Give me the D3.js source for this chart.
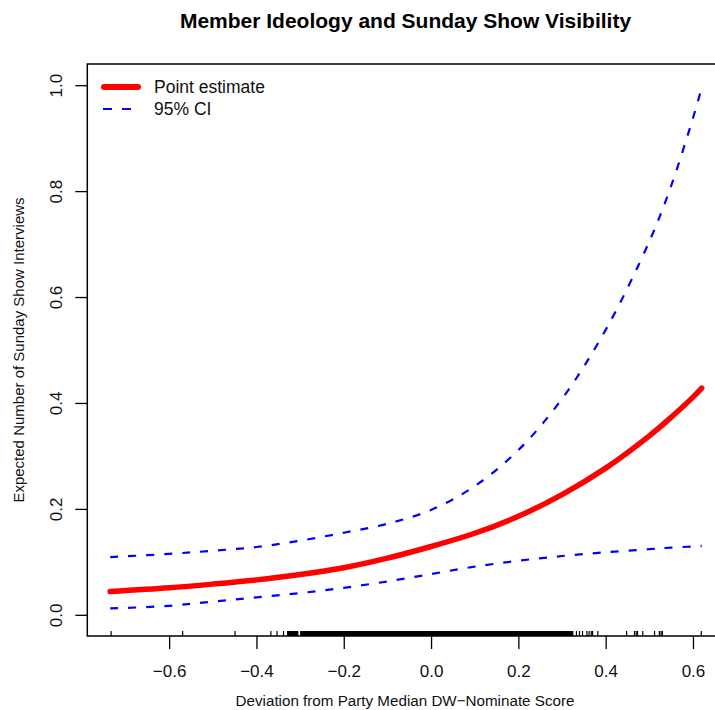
<!DOCTYPE html>
<html>
<head>
<meta charset="utf-8">
<script src="https://cdn.jsdelivr.net/npm/d3@7"></script>
<style>
  html, body { margin: 0; padding: 0; background: #fff; }
  svg { display: block; font-family: "Liberation Sans", Arial, Helvetica, sans-serif; }
</style>
</head>
<body>
<svg id="chart" width="715" height="710"></svg>
<script>
// ---- data ----
const xGrid = [-0.735, -0.6, -0.5, -0.4, -0.3, -0.2, -0.1, 0.0, 0.1, 0.2, 0.3, 0.4, 0.5, 0.55, 0.6, 0.62];
const pointEstimate = [0.044, 0.051, 0.058, 0.066, 0.076, 0.089, 0.107, 0.129, 0.154, 0.186, 0.227, 0.277, 0.338, 0.373, 0.411, 0.428];
const upperCI = [0.109, 0.115, 0.121, 0.128, 0.140, 0.155, 0.172, 0.198, 0.243, 0.311, 0.408, 0.538, 0.705, 0.810, 0.938, 0.995];
const lowerCI = [0.012, 0.017, 0.025, 0.033, 0.041, 0.051, 0.063, 0.077, 0.091, 0.102, 0.111, 0.118, 0.124, 0.127, 0.129, 0.130];

// rug of observed deviations: isolated ticks and dense bands
const rugTicks = [-0.733, -0.569, -0.449, -0.367, -0.353, -0.338, 0.333, 0.340, 0.347, 0.357, 0.362, 0.367, 0.370, 0.382,
                  0.448, 0.466, 0.470, 0.473, 0.485, 0.512, 0.523, 0.527, 0.530, 0.619];
const rugBands = [[-0.330, -0.304], [-0.300, 0.326]];

const xTicks = [-0.6, -0.4, -0.2, 0.0, 0.2, 0.4, 0.6];
const xTickLabels = ["\u22120.6", "\u22120.4", "\u22120.2", "0.0", "0.2", "0.4", "0.6"];
const yTicks = [0.0, 0.2, 0.4, 0.6, 0.8, 1.0];
const yTickLabels = ["0.0", "0.2", "0.4", "0.6", "0.8", "1.0"];

const title = "Member Ideology and Sunday Show Visibility";
const xLabel = "Deviation from Party Median DW\u2212Nominate Score";
const yLabel = "Expected Number of Sunday Show Interviews";
const legendLabels = ["Point estimate", "95% CI"];

// ---- layout ----
const svg = d3.select("#chart");
const L = 87.3, R = 725.5, T = 64, B = 636;
const x = d3.scaleLinear().domain([-0.7875, 0.6745]).range([L, R]);
const y = d3.scaleLinear().domain([-0.04, 1.04]).range([B, T]);

const mk = (vals) => xGrid.map((xv, i) => [xv, vals[i]]);
const line = d3.line().x(d => x(d[0])).y(d => y(d[1])).curve(d3.curveCatmullRom.alpha(0.5));

// curves
svg.append("path").datum(mk(upperCI)).attr("d", line)
  .attr("fill", "none").attr("stroke", "#0000ff").attr("stroke-width", 2.2)
  .attr("stroke-dasharray", "8,10");
svg.append("path").datum(mk(lowerCI)).attr("d", line)
  .attr("fill", "none").attr("stroke", "#0000ff").attr("stroke-width", 2.2)
  .attr("stroke-dasharray", "8,10");
svg.append("path").datum(mk(pointEstimate)).attr("d", line)
  .attr("fill", "none").attr("stroke", "#ff0000").attr("stroke-width", 5.5)
  .attr("stroke-linecap", "round");

// rug
svg.append("g").selectAll("line").data(rugTicks).join("line")
  .attr("x1", d => x(d)).attr("x2", d => x(d))
  .attr("y1", B).attr("y2", B - 5)
  .attr("stroke", "#000").attr("stroke-width", 1.2);
svg.append("g").selectAll("rect").data(rugBands).join("rect")
  .attr("x", d => x(d[0])).attr("width", d => x(d[1]) - x(d[0]))
  .attr("y", B - 5).attr("height", 5).attr("fill", "#000");

// box
svg.append("rect").attr("x", L).attr("y", T).attr("width", R - L).attr("height", B - T)
  .attr("fill", "none").attr("stroke", "#000").attr("stroke-width", 1.5);

// x axis
const xAxis = svg.append("g").attr("transform", `translate(0,${B})`)
  .call(d3.axisBottom(x).tickValues(xTicks).tickSize(13)
    .tickFormat((d, i) => xTickLabels[i]));
xAxis.select(".domain").remove();
xAxis.selectAll(".tick line").attr("stroke", "#000").attr("stroke-width", 1.3);
xAxis.selectAll(".tick text").attr("y", 41).attr("dy", null)
  .attr("font-size", 17).attr("fill", "#111")
  .attr("font-family", "Liberation Sans, Arial, sans-serif");

// y axis
const yAxis = svg.append("g").attr("transform", `translate(${L},0)`)
  .call(d3.axisLeft(y).tickValues(yTicks).tickSize(12)
    .tickFormat((d, i) => yTickLabels[i]));
yAxis.select(".domain").remove();
yAxis.selectAll(".tick line").attr("stroke", "#000").attr("stroke-width", 1.3);
yAxis.selectAll(".tick text")
  .attr("transform", "rotate(-90)")
  .attr("x", 0).attr("y", -25).attr("dy", null)
  .attr("text-anchor", "middle")
  .attr("font-size", 17).attr("fill", "#111")
  .attr("font-family", "Liberation Sans, Arial, sans-serif");

// title and labels
svg.append("text").attr("x", 405.5).attr("y", 28).attr("text-anchor", "middle")
  .attr("font-size", 21).attr("font-weight", "bold").attr("fill", "#000").text(title);
svg.append("text").attr("x", 405).attr("y", 706).attr("text-anchor", "middle")
  .attr("font-size", 15.2).attr("fill", "#111").text(xLabel);
svg.append("text").attr("transform", `translate(24,${(T + B) / 2}) rotate(-90)`)
  .attr("text-anchor", "middle").attr("font-size", 15).attr("fill", "#111").text(yLabel);

// legend
const lg = svg.append("g");
lg.append("line").attr("x1", 104).attr("x2", 138).attr("y1", 87).attr("y2", 87)
  .attr("stroke", "#ff0000").attr("stroke-width", 6).attr("stroke-linecap", "round");
lg.append("line").attr("x1", 103).attr("x2", 131).attr("y1", 109).attr("y2", 109)
  .attr("stroke", "#0000ff").attr("stroke-width", 2.2).attr("stroke-dasharray", "9,10");
lg.append("text").attr("x", 154).attr("y", 93).attr("font-size", 17.5).attr("fill", "#111").text(legendLabels[0]);
lg.append("text").attr("x", 154).attr("y", 115).attr("font-size", 17.5).attr("fill", "#111").text(legendLabels[1]);
</script>
</body>
</html>
